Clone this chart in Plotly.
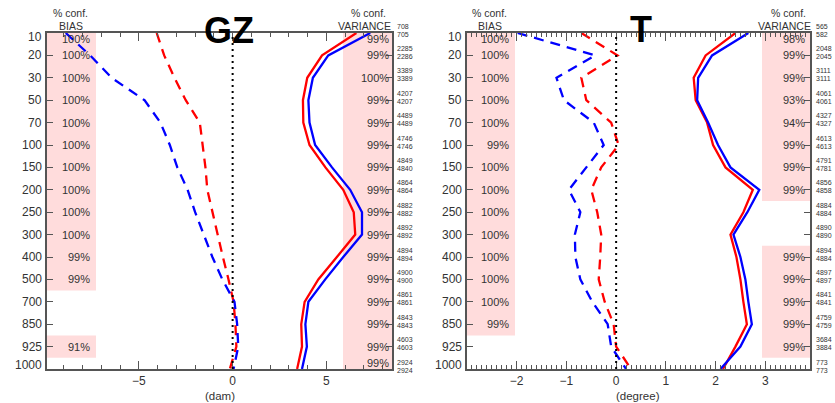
import plotly.graph_objects as go

# ---------------- data ----------------
levels = [10, 20, 30, 50, 70, 100, 150, 200, 250, 300, 400, 500, 700, 850, 925, 1000]

# GZ (dam)
gz_bias_blue = [-8.9, -7.6, -6.45, -4.7, -3.85, -3.35, -2.95, -2.4, -2.0, -1.55, -1.08, -0.55, 0.1, 0.24, 0.3, 0.05]
gz_bias_red = [-4.05, -3.65, -3.1, -2.5, -1.75, -1.6, -1.45, -1.35, -1.08, -0.8, -0.52, -0.22, 0.05, 0.15, 0.2, -0.15]
gz_var_blue = [7.34, 5.1, 4.28, 4.04, 4.1, 4.4, 5.3, 6.27, 6.9, 6.9, 5.9, 4.94, 4.04, 3.88, 3.96, 3.7]
gz_var_red = [6.6, 4.77, 3.98, 3.75, 3.77, 4.1, 4.95, 5.9, 6.46, 6.54, 5.56, 4.57, 3.84, 3.66, 3.7, 3.44]

# T (degree)
t_bias_blue = [-1.98, -0.42, -1.2, -1.05, -0.45, -0.25, -0.6, -0.95, -0.72, -0.83, -0.82, -0.72, -0.48, -0.17, -0.1, 0.2]
t_bias_red = [-0.7, 0.03, -0.7, -0.6, -0.1, 0.05, -0.3, -0.5, -0.38, -0.3, -0.32, -0.35, -0.23, -0.05, 0.0, 0.3]
t_var_blue = [2.66, 1.93, 1.65, 1.63, 1.85, 2.05, 2.3, 2.88, 2.64, 2.36, 2.5, 2.6, 2.66, 2.73, 2.5, 2.1]
t_var_red = [2.4, 1.8, 1.56, 1.6, 1.83, 1.95, 2.2, 2.75, 2.56, 2.3, 2.42, 2.5, 2.56, 2.63, 2.4, 2.15]

# confidence labels
gz_bias_pct = ["100%"] * 10 + ["99%", "99%", None, None, "91%", None]
gz_var_pct = ["99%", "99%", "100%"] + ["99%"] * 13
t_bias_pct = ["100%"] * 5 + ["99%"] + ["100%"] * 7 + ["99%", None, None]
t_var_pct = ["98%", "99%", "99%", "93%", "94%", "99%", "99%", "99%", None, None,
             "99%", "99%", "99%", "99%", "99%", None]

# sample counts
gz_n_upper = [708, 2285, 3389, 4207, 4489, 4746, 4849, 4864, 4882, 4892, 4894, 4900, 4861, 4843, 4603, 2924]
gz_n_lower = [705, 2286, 3389, 4207, 4489, 4746, 4840, 4864, 4882, 4892, 4894, 4900, 4861, 4843, 4603, 2924]
t_n_upper = [565, 2048, 3111, 4061, 4327, 4613, 4791, 4856, 4884, 4890, 4894, 4897, 4841, 4759, 3684, 773]
t_n_lower = [582, 2045, 3111, 4061, 4327, 4613, 4781, 4858, 4884, 4890, 4884, 4897, 4841, 4759, 3884, 773]

gz_ticks = [-5, 0, 5]
t_ticks = [-2, -1, 0, 1, 2, 3]

# ---------------- layout helpers ----------------
W, H = 835, 403
TOP, BOT = 33, 369
FONT = "Liberation Sans, Arial, sans-serif"
TXT = "#333333"
AX = "#555555"
PINK = "#ffdcdc"
cats = [str(l) for l in levels]
N = len(levels)


def px(x):
    return x / W


def py(y):
    return 1 - y / H


fig = go.Figure()

dash = "10px,7px"
for xa, ya, br, bb, vr, vb in [
    ("x", "y", gz_bias_red, gz_bias_blue, gz_var_red, gz_var_blue),
    ("x2", "y2", t_bias_red, t_bias_blue, t_var_red, t_var_blue),
]:
    for vals, col, d in [(br, "#ff0000", dash), (bb, "#0000ff", dash),
                         (vr, "#ff0000", "solid"), (vb, "#0000ff", "solid")]:
        fig.add_trace(go.Scatter(x=vals, y=cats, mode="lines",
                                 line=dict(color=col, width=2.3, dash=d),
                                 xaxis=xa, yaxis=ya, showlegend=False,
                                 hoverinfo="skip"))

shapes = []
annotations = []


def runs(pcts):
    out = []
    start = None
    for i, p in enumerate(pcts + [None]):
        if p is not None and start is None:
            start = i
        elif p is None and start is not None:
            out.append((start, i - 1))
            start = None
    return out


def pink(xr, yr, pcts, x0, x1):
    for a, b in runs(pcts):
        shapes.append(dict(type="rect", xref=xr + " domain", yref=yr,
                           x0=x0, x1=x1, y0=max(a - 0.5, 0), y1=min(b + 0.5, N - 1),
                           fillcolor=PINK, line=dict(width=0), layer="below"))


pink("x", "y", gz_bias_pct, 0, 0.142)
pink("x", "y", gz_var_pct, 0.858, 1)
pink("x2", "y2", t_bias_pct, 0, 0.14)
pink("x2", "y2", t_var_pct, 0.86, 1)

# zero dotted lines
for xr, yr in [("x", "y"), ("x2", "y2")]:
    shapes.append(dict(type="line", xref=xr, yref=yr + " domain", x0=0, x1=0, y0=0, y1=1,
                       line=dict(color="black", width=2, dash="2px,4px")))


def ann(text, x, y, size, xanchor="center", yanchor="middle", xref="paper", yref="paper",
        yshift=0, color=TXT, bold=False):
    annotations.append(dict(text=("<b>%s</b>" % text) if bold else text, x=x, y=y,
                            xref=xref, yref=yref, xanchor=xanchor, yanchor=yanchor,
                            yshift=yshift, showarrow=False, borderpad=0,
                            font=dict(family=FONT, size=size, color=color)))


def end_shift(i, s):
    if i == 0:
        return -s
    if i == N - 1:
        return s
    return 0


for yr, pcts, xr in [("y", gz_bias_pct, 91), ("y", gz_var_pct, 390),
                     ("y2", t_bias_pct, 510), ("y2", t_var_pct, 806)]:
    for i, p in enumerate(pcts):
        if p:
            ann(p, px(xr), i, 11, xanchor="right", yref=yr, yshift=end_shift(i, 6))

for yr, up, lo, xl in [("y", gz_n_upper, gz_n_lower, 396), ("y2", t_n_upper, t_n_lower, 815)]:
    for i in range(N):
        ann(str(up[i]), px(xl), i, 7, xanchor="left", yref=yr, yshift=7)
        ann(str(lo[i]), px(xl), i, 7, xanchor="left", yref=yr, yshift=-1)

# y tick labels
for yr, xr in [("y", 43), ("y2", 463)]:
    for i, l in enumerate(levels):
        ann(str(l), px(xr), i, 12, xanchor="right", yref=yr, yshift=end_shift(i, 4))

# headers
ann("% conf.", px(70), py(13), 10.5)
ann("BIAS", px(71), py(26), 10.5)
ann("% conf.", px(368), py(13), 10.5)
ann("VARIANCE", px(392), py(26), 10.5, xanchor="right")
ann("% conf.", px(490), py(13), 10.5)
ann("BIAS", px(490), py(26), 10.5)
ann("% conf.", px(788), py(13), 10.5)
ann("VARIANCE", px(812), py(26), 10.5, xanchor="right")

# titles
ann("GZ", px(229), py(30), 36, color="black", bold=True)
ann("T", px(641), py(29), 36, color="black", bold=True)

# axis titles
ann("(dam)", px(220), py(396), 11.5)
ann("(degree)", px(638), py(396), 11.5)

ydom = [py(BOT), py(TOP)]


def xaxis(dom, rng, ticks, minor_dtick):
    return dict(domain=dom, range=rng, tickmode="array", tickvals=ticks,
                ticks="inside", ticklen=8, tickcolor=AX, tickwidth=1,
                showline=True, linecolor=AX, linewidth=1.5, mirror="allticks",
                showgrid=False, zeroline=False, ticklabelstandoff=0,
                tickfont=dict(family=FONT, size=12, color=TXT),
                minor=dict(tickmode="linear", tick0=0, dtick=minor_dtick, ticks="inside",
                           ticklen=4, tickcolor=AX, tickwidth=1, showgrid=False))


def yaxis(anchor):
    return dict(domain=ydom, type="category", categoryarray=cats, range=[N - 1, 0],
                anchor=anchor, ticks="inside", ticklen=6, tickcolor=AX, tickwidth=1,
                showticklabels=False, showline=True, linecolor=AX, linewidth=1.5,
                mirror="allticks", showgrid=False, zeroline=False)


fig.update_layout(
    width=W, height=H, margin=dict(l=0, r=0, t=0, b=0),
    paper_bgcolor="white", plot_bgcolor="white", showlegend=False,
    xaxis=dict(xaxis([px(47), px(392)], [-9.9, 8.5], gz_ticks, 1), anchor="y"),
    yaxis=yaxis("x"),
    xaxis2=dict(xaxis([px(467), px(810)], [-3.0, 3.9], t_ticks, 0.1), anchor="y2"),
    yaxis2=yaxis("x2"),
    shapes=shapes, annotations=annotations,
)

fig.write_html("out.html")
